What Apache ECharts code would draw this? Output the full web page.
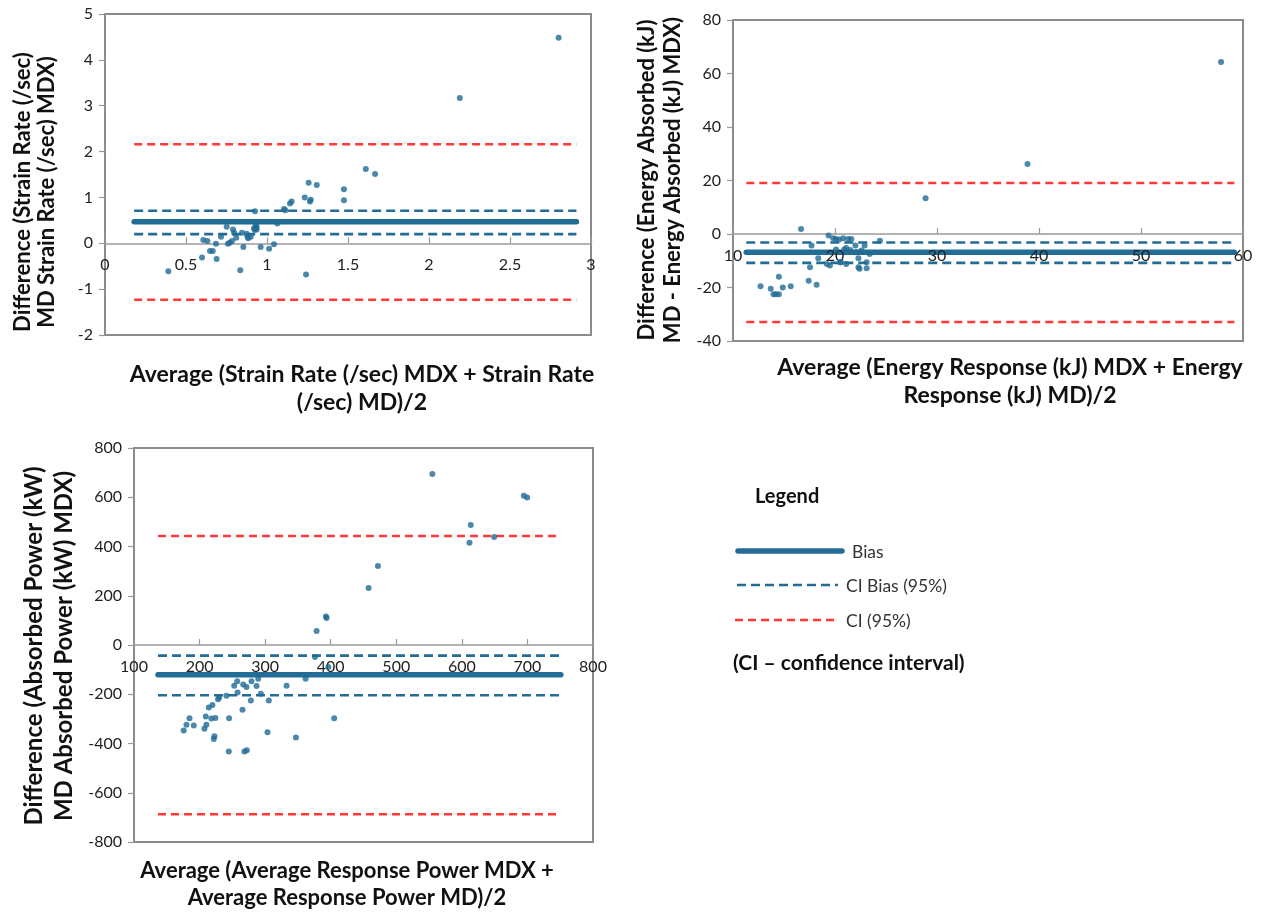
<!DOCTYPE html>
<html>
<head>
<meta charset="utf-8">
<script src="https://cdn.jsdelivr.net/npm/echarts@6/dist/echarts.min.js"></script>
<style>
html,body{margin:0;padding:0;background:#fff;}
#chart{width:1273px;height:912px;}
</style>
</head>
<body>
<div id="chart"></div>
<script>
// ---------- Data ----------
// Strain rate plot
const strainX = [2.80,2.19,1.61,1.667,1.257,1.307,1.475,1.475,1.233,1.27,1.265,1.152,1.142,1.105,1.113,0.926,1.064,0.936,0.936,0.924,0.751,0.79,0.797,0.846,0.874,0.81,0.884,0.90,0.716,0.784,0.759,0.685,0.607,0.632,0.648,0.665,0.599,0.689,0.391,0.835,1.241,0.854,0.961,1.013,1.043,0.93,0.92,0.77,0.88];
const strainY = [4.48,3.17,1.62,1.51,1.32,1.27,1.18,0.94,1.0,0.95,0.91,0.91,0.87,0.75,0.72,0.70,0.43,0.36,0.30,0.29,0.36,0.30,0.23,0.23,0.21,0.12,0.11,0.14,0.14,0.05,-0.01,-0.01,0.07,0.05,-0.17,-0.17,-0.31,-0.34,-0.61,-0.59,-0.68,-0.08,-0.08,-0.12,-0.02,0.39,0.33,0.01,0.14];
// limits: CI upper, CI bias upper, bias, CI bias lower, CI lower
const strainLimits = [2.16, 0.71, 0.47, 0.2, -1.23];
const strainSpan = [0.18, 2.91];

// Energy plot
const energyX = [57.85,38.87,28.88,16.67,12.7,13.7,13.97,14.2,14.5,14.5,14.88,15.66,17.42,18.2,17.55,18.36,17.7,19.37,19.83,20.1,20.4,20.8,21.3,21.6,24.4,19.2,19.5,20.5,21.1,20.9,22.0,22.1,22.3,22.4,22.3,23.1,22.9,22.6,23.4,23.1,21.1,20.6,20.1,21.5];
const energyY = [64.3,26.2,13.4,1.86,-19.5,-20.5,-22.5,-22.5,-22.5,-16.0,-20.0,-19.5,-17.5,-19.0,-12.4,-9.1,-4.3,-0.6,-1.6,-1.9,-2.1,-1.6,-1.9,-1.9,-2.5,-11.2,-11.8,-10.6,-5.2,-5.8,-4.3,-6.8,-9.1,-13.0,-12.4,-12.8,-4.3,-6.2,-7.5,-10.6,-11.2,-10.6,-5.8,-6.0];
const energyLimits = [19.1, -3.2, -6.8, -10.8, -32.9];
const energySpan = [11.3, 59.15];

// Power plot
const powerX = [555,694.5,699.6,613.6,611.6,649.2,472,457.8,392.7,393.7,378.5,376,396.4,361.7,332.7,405.3,346.9,303.6,305.6,293.4,289.4,286.9,279.2,278.2,271.6,266.5,265.5,257.4,252.8,257.9,241,229.8,228.2,219.6,214,218,224.1,209.4,210.4,207.4,222.7,221.7,245,244.5,268.4,272,184.6,180,175.8,191.1];
const powerY = [694,605.7,598.6,487.6,415.5,438.7,320.6,231,115.7,110,57,-48.9,-89.6,-137,-165.5,-297,-376,-354,-225,-198,-137,-167,-147,-225,-171,-160,-263,-147,-165,-193,-206,-213,-220,-244,-254,-298,-296,-290,-324,-340,-371,-382,-297,-432,-432,-427,-297,-324,-347,-327];
const powerLimits = [443, -43, -121, -204, -687];
const powerSpan = [136.6, 751];

// Axis ranges [min, max, interval]
const strainXAxis = [0, 3, 0.5];
const strainYAxis = [-2, 5, 1];
const energyXAxis = [10, 60, 10];
const energyYAxis = [-40, 80, 20];
const powerXAxis = [100, 800, 100];
const powerYAxis = [-800, 800, 200];

// Legend texts
const legendItems = ['Bias', 'CI Bias (95%)', 'CI (95%)'];

// ---------- Styles / layout ----------
const BLUE = '#236c95';
const DOT = '#1f6a93';
const RED = '#ff3838';
const FONT = 'Lato, "Liberation Sans", sans-serif';
const grids = [
  {left:105, top:14, width:486, height:321},
  {left:733, top:20, width:510, height:321},
  {left:134, top:448, width:459, height:394}
];

function zip(xs, ys){ return xs.map((x,i)=>[x, ys[i]]); }

function axesFor(idx, xr, yr){
  // lift the x axis up to the y = 0 level of its grid
  const g = grids[idx];
  const zeroOffset = -g.height * (0 - yr[0]) / (yr[1] - yr[0]);
  return {
    x: {
      gridIndex: idx, type:'value', position:'bottom', offset: zeroOffset, z:4,
      min:xr[0], max:xr[1], interval:xr[2],
      splitLine:{show:false},
      axisLine:{show:true, onZero:false, lineStyle:{color:'#9a9a9a', width:1.5}},
      axisTick:{show:true, inside:true, length:6, lineStyle:{color:'#9a9a9a', width:1.2}},
      axisLabel:{color:'#222', fontFamily:FONT, fontSize:16, margin:14, showMinLabel:true, showMaxLabel:true}
    },
    y: {
      gridIndex: idx, type:'value',
      min:yr[0], max:yr[1], interval:yr[2],
      splitLine:{show:false},
      axisLine:{show:true, lineStyle:{color:'#8c8c8c', width:2}},
      axisTick:{show:true, inside:false, length:6, lineStyle:{color:'#9a9a9a', width:1.2}},
      axisLabel:{color:'#222', fontFamily:FONT, fontSize:16, margin:12}
    }
  };
}

function seriesFor(idx, xs, ys, limits, span){
  const hline = (v, style) => ({
    type:'line', xAxisIndex:idx, yAxisIndex:idx,
    data:[[span[0], v],[span[1], v]],
    symbol:'none', silent:true, z:2,
    lineStyle: style
  });
  return [
    hline(limits[0], {color:RED, width:2.5, type:[8,5]}),
    hline(limits[1], {color:BLUE, width:2.6, type:[9,5]}),
    hline(limits[2], {color:BLUE, width:5.5, type:'solid', cap:'round'}),
    hline(limits[3], {color:BLUE, width:2.6, type:[9,5]}),
    hline(limits[4], {color:RED, width:2.5, type:[8,5]}),
    {
      type:'scatter', xAxisIndex:idx, yAxisIndex:idx,
      data: zip(xs, ys), symbolSize:6, z:5,
      itemStyle:{color:DOT}
    }
  ];
}

const a0 = axesFor(0, strainXAxis, strainYAxis);
const a1 = axesFor(1, energyXAxis, energyYAxis);
const a2 = axesFor(2, powerXAxis, powerYAxis);

const titleFont = (s) => 'bold ' + s + 'px ' + FONT;

const graphics = [
  // Y titles
  {type:'text', x:35, y:192, rotation:Math.PI/2,
   style:{text:'Difference (Strain Rate (/sec)\nMD Strain Rate (/sec) MDX)', font:titleFont(22), lineHeight:24, fill:'#111', textAlign:'center', textVerticalAlign:'middle'}},
  {type:'text', x:660, y:180, rotation:Math.PI/2,
   style:{text:'Difference (Energy Absorbed (kJ)\nMD - Energy Absorbed (kJ) MDX)', font:titleFont(22), lineHeight:26, fill:'#111', textAlign:'center', textVerticalAlign:'middle'}},
  {type:'text', x:49, y:646, rotation:Math.PI/2,
   style:{text:'Difference (Absorbed Power (kW)\nMD Absorbed Power (kW) MDX)', font:titleFont(24), lineHeight:30, fill:'#111', textAlign:'center', textVerticalAlign:'middle'}},
  // X titles
  {type:'text', x:362, y:389,
   style:{text:'Average (Strain Rate (/sec) MDX + Strain Rate\n(/sec) MD)/2', font:titleFont(23), lineHeight:28, fill:'#111', textAlign:'center', textVerticalAlign:'middle'}},
  {type:'text', x:1010, y:382,
   style:{text:'Average (Energy Response (kJ) MDX + Energy\nResponse (kJ) MD)/2', font:titleFont(23), lineHeight:28, fill:'#111', textAlign:'center', textVerticalAlign:'middle'}},
  {type:'text', x:347, y:884,
   style:{text:'Average (Average Response Power MDX +\nAverage Response Power MD)/2', font:titleFont(22), lineHeight:27, fill:'#111', textAlign:'center', textVerticalAlign:'middle'}},
  // Legend
  {type:'text', x:755, y:497, style:{text:'Legend', font:titleFont(20), fill:'#111', textVerticalAlign:'middle'}},
  {type:'line', shape:{x1:738, y1:551, x2:842, y2:551}, style:{stroke:BLUE, lineWidth:5.5, lineCap:'round'}},
  {type:'text', x:852, y:552, style:{text:legendItems[0], font:'17.5px '+FONT, fill:'#333', textVerticalAlign:'middle'}},
  {type:'line', shape:{x1:737, y1:585, x2:838, y2:585}, style:{stroke:BLUE, lineWidth:2.6, lineDash:[9,5]}},
  {type:'text', x:846, y:586, style:{text:legendItems[1], font:'17.5px '+FONT, fill:'#333', textVerticalAlign:'middle'}},
  {type:'line', shape:{x1:735, y1:620, x2:838, y2:620}, style:{stroke:RED, lineWidth:2.5, lineDash:[8,5]}},
  {type:'text', x:846, y:621, style:{text:legendItems[2], font:'17.5px '+FONT, fill:'#333', textVerticalAlign:'middle'}},
  {type:'text', x:733, y:663, style:{text:'(CI \u2013 confidence interval)', font:titleFont(21), fill:'#111', textVerticalAlign:'middle'}}
];

const option = {
  animation:false,
  backgroundColor:'#fff',
  grid: grids.map(g => Object.assign({show:true, borderColor:'#8c8c8c', borderWidth:2, backgroundColor:'transparent'}, g)),
  xAxis:[a0.x, a1.x, a2.x],
  yAxis:[a0.y, a1.y, a2.y],
  series:[].concat(
    seriesFor(0, strainX, strainY, strainLimits, strainSpan),
    seriesFor(1, energyX, energyY, energyLimits, energySpan),
    seriesFor(2, powerX, powerY, powerLimits, powerSpan)
  ),
  graphic: graphics
};

const chart = echarts.init(document.getElementById('chart'), null, {renderer:'canvas'});
chart.setOption(option);
</script>
</body>
</html>
